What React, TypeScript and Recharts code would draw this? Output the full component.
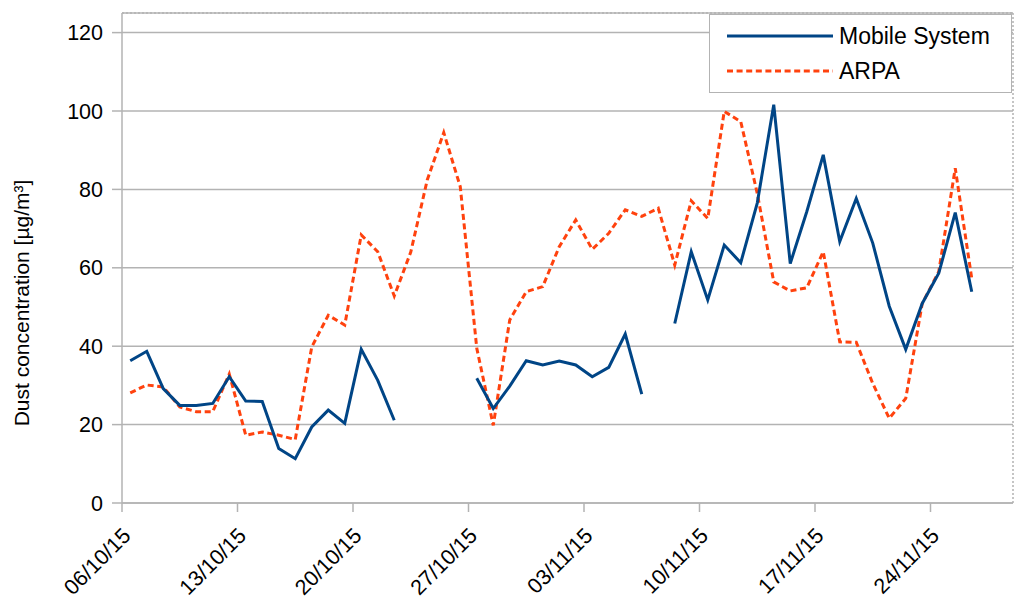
import React from "react";
import {
  LineChart,
  Line,
  XAxis,
  YAxis,
  CartesianGrid,
  Legend,
  ReferenceLine,
} from "recharts";

// daily values from 06/10/15 to 26/11/15 (null = no measurement)
const mobileSystem = [
  36.3, 38.7, 29.2, 24.9, 24.9, 25.4, 32.2, 26.0, 25.9, 13.9, 11.3, 19.4, 23.7,
  20.3, 39.2, 31.3, 21.1, null, null, null, null, 31.8, 24.1, 29.8, 36.3, 35.2,
  36.2, 35.2, 32.2, 34.6, 43.1, 27.8, null, 45.8, 64.1, 51.8, 65.8, 61.3, 76.5,
  101.6, 61.1, 74.3, 88.8, 66.7, 77.7, 66.3, 50.2, 39.2, 50.9, 58.6, 74.1, 53.9,
];
const arpa = [
  28.1, 30.1, 29.6, 24.5, 23.3, 23.3, 32.9, 17.3, 18.1, 17.3, 16.2, 39.8, 47.9,
  45.4, 68.4, 64.1, 52.8, 64.0, 82.4, 94.5, 80.7, 39.5, 19.8, 46.7, 53.9, 55.2,
  65.4, 72.2, 64.7, 68.8, 74.8, 73.1, 75.2, 60.7, 77.1, 72.6, 99.9, 97.3, 79.0,
  56.4, 54.1, 54.9, 64.1, 41.1, 41.0, 30.5, 21.6, 26.7, 50.9, 59.0, 85.4, 57.3,
];
const weekLabels = [
  "06/10/15", "13/10/15", "20/10/15", "27/10/15",
  "03/11/15", "10/11/15", "17/11/15", "24/11/15",
];
const yTicks = [0, 20, 40, 60, 80, 100, 120];

const totalDays = 54;
const weekTicks = weekLabels.map((_, i) => i * 7);

// points sit in the middle of their day slot
const data = mobileSystem.map((m, i) => ({
  day: i + 0.5,
  mobile: m,
  arpa: arpa[i],
}));

const FONT = "'Liberation Sans', Arial, sans-serif";
const BLUE = "#004586";
const ORANGE = "#ff420e";
const GRID = "#b3b3b3";

const DateTick = (props: any) => {
  const { x, y, payload } = props;
  const label = weekLabels[Math.round(payload.value / 7)];
  return (
    <g transform={`translate(${x + 10},${y + 23})`}>
      <text
        x={0}
        y={0}
        textAnchor="end"
        transform="rotate(-45)"
        fontSize={21.5}
        fontFamily={FONT}
        fill="#000"
      >
        {label}
      </text>
    </g>
  );
};

const LegendBox = () => (
  <div
    style={{
      width: 301,
      height: 77,
      border: `1px solid ${GRID}`,
      background: "#fff",
      fontFamily: FONT,
      fontSize: 23,
      color: "#000",
      position: "relative",
    }}
  >
    {[
      { name: "Mobile System", color: BLUE, dash: undefined, top: 8 },
      { name: "ARPA", color: ORANGE, dash: "6 3.6", top: 43 },
    ].map((it) => (
      <div
        key={it.name}
        style={{ position: "absolute", left: 17, top: it.top, display: "flex", alignItems: "center" }}
      >
        <svg width={106} height={26}>
          <line
            x1={0}
            y1={13}
            x2={106}
            y2={13}
            stroke={it.color}
            strokeWidth={3}
            strokeDasharray={it.dash}
          />
        </svg>
        <span style={{ marginLeft: 6, lineHeight: "26px" }}>{it.name}</span>
      </div>
    ))}
  </div>
);

export default function App() {
  return (
    <div style={{ position: "absolute", left: 0, top: 0, background: "#fff" }}>
      <LineChart
        width={1024}
        height={607}
        data={data}
        margin={{ top: 13, right: 11, left: 0, bottom: 44 }}
      >
        <CartesianGrid vertical={false} stroke={GRID} strokeWidth={1.5} />
        <XAxis
          dataKey="day"
          type="number"
          domain={[0, totalDays]}
          ticks={weekTicks}
          interval={0}
          height={60}
          tick={<DateTick />}
          tickSize={9}
          tickLine={{ stroke: GRID, strokeWidth: 1.5 }}
          axisLine={{ stroke: GRID, strokeWidth: 1.5 }}
        />
        <YAxis
          type="number"
          domain={[0, 125]}
          ticks={yTicks}
          width={122}
          tickSize={10}
          tickMargin={9}
          tickLine={{ stroke: GRID, strokeWidth: 1.5 }}
          axisLine={{ stroke: GRID, strokeWidth: 1.5 }}
          tick={{ fontSize: 21.5, fontFamily: FONT, fill: "#000" }}
          label={{
            content: () => (
              <text
                transform="translate(21,303) rotate(-90)"
                textAnchor="middle"
                dominantBaseline="central"
                fontSize={21}
                fontFamily={FONT}
                fill="#000"
              >
                Dust concentration [µg/m³]
              </text>
            ),
          }}
        />
        <ReferenceLine y={125} stroke={GRID} strokeDasharray="2 2" strokeWidth={1.5} />
        <ReferenceLine x={totalDays} stroke={GRID} strokeDasharray="2 2" strokeWidth={1.5} />
        <Line
          type="linear"
          dataKey="arpa"
          name="ARPA"
          stroke={ORANGE}
          strokeWidth={3}
          strokeDasharray="6 3.6"
          dot={false}
          isAnimationActive={false}
        />
        <Line
          type="linear"
          dataKey="mobile"
          name="Mobile System"
          stroke={BLUE}
          strokeWidth={3}
          dot={false}
          isAnimationActive={false}
        />
        <Legend
          layout="horizontal"
          verticalAlign="middle"
          align="center"
          content={<LegendBox />}
          wrapperStyle={{ position: "absolute", left: 709, top: 14, width: 303, height: 79 }}
        />
      </LineChart>
    </div>
  );
}
